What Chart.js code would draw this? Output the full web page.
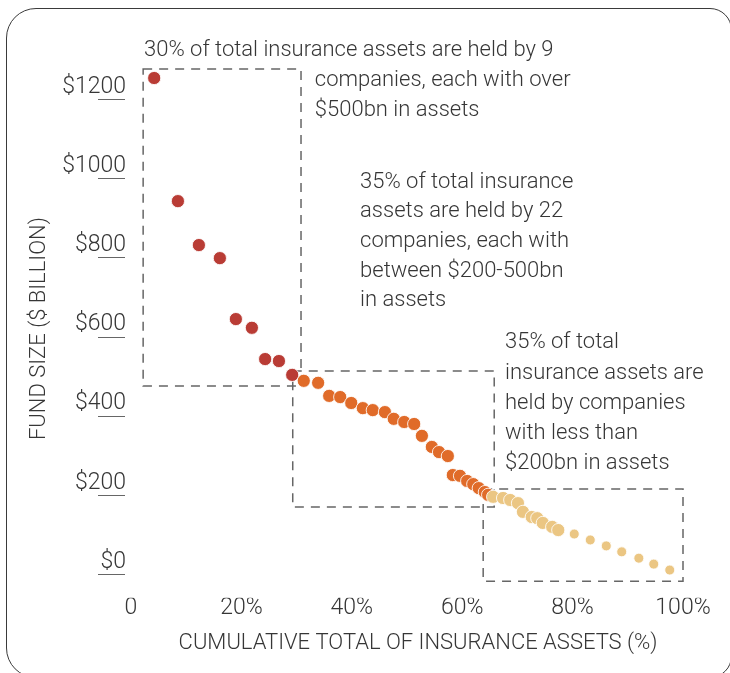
<!DOCTYPE html>
<html><head><meta charset="utf-8">
<script src="https://cdn.jsdelivr.net/npm/chart.js@4"></script>
<style>
html,body{margin:0;padding:0;background:#fff;}
#wrap{position:relative;width:730px;height:673px;overflow:hidden;}
#frame{position:absolute;left:6px;top:8px;width:726px;height:670px;box-sizing:border-box;border:1.5px solid #3a3a3a;border-radius:30px 22px 22px 30px;}
canvas{position:absolute;left:0;top:0;}
</style></head><body>
<div id="wrap"><div id="frame"></div><canvas id="c" width="730" height="673"></canvas></div>
<script>
// ---- tick labels ----
const xTickValues = [0, 20, 40, 60, 80, 100];
const xTickLabels = ['0', '20%', '40%', '60%', '80%', '100%'];
const yTickValues = [0, 200, 400, 600, 800, 1000, 1200];
const yTickLabels = ['$0', '$200', '$400', '$600', '$800', '$1000', '$1200'];

// ---- series: cumulative share (%) and fund size ($bn) ----
const over500X = [4.2, 8.5, 12.3, 16.1, 19.0, 21.9, 24.3, 26.8, 29.2];
const over500Y = [1253, 942, 831, 798, 644, 622, 543, 538, 503];

const mid200to500X = [31.3, 33.9, 35.9, 37.9, 39.9, 42.0, 43.8, 46.0, 47.6, 49.5, 51.3, 52.7, 54.5, 55.8, 57.4, 58.3, 59.6, 60.9, 62.0, 63.0, 64.1, 64.7];
const mid200to500Y = [488, 483, 450, 447, 432, 419, 414, 409, 392, 384, 379, 349, 321, 308, 298, 250, 248, 235, 227, 217, 207, 200];

const under200X = [65.6, 67.4, 68.7, 70.1, 71.0, 72.6, 73.6, 74.6, 76.3, 77.4];
const under200Y = [195, 192, 187, 179, 157, 144, 141, 129, 119, 111];

const smallestX = [80.3, 83.2, 86.1, 88.9, 92.0, 94.7, 97.6];
const smallestY = [101, 86, 71, 56, 40, 25, 10];

// ---- annotation groups (dashed boxes, data coordinates) ----
const boxXMin = [2.2, 29.3, 63.8];
const boxXMax = [30.8, 65.8, 100.0];
const boxYMax = [1276, 513, 215];
const boxYMin = [475, 169, -18];

const note1Lines = ['30% of total insurance assets are held by 9', 'companies, each with over', '$500bn in assets'];
const note2Lines = ['35% of total insurance', 'assets are held by 22', 'companies, each with', 'between $200-500bn', 'in assets'];
const note3Lines = ['35% of total', 'insurance assets are', 'held by companies', 'with less than', '$200bn in assets'];

const yTitle = 'FUND SIZE ($ BILLION)';
const xTitle = 'CUMULATIVE TOTAL OF INSURANCE ASSETS (%)';

function zip(xs, ys) { return xs.map((x, i) => ({ x: x, y: ys[i] })); }

const FAM = 'Roboto, "Liberation Sans", sans-serif';
const W = 300;
const TICK_SIZE = 23;
const NOTE_SIZE = 22;
const TITLE_SIZE = 22;
const TEXT = '#363636';

const RED = '#b93c35', ORANGE = '#e06b29', YELLOW = '#ebc683';

const boxPlugin = {
  id: 'boxes',
  beforeDatasetsDraw(chart) {
    const { ctx, scales: { x, y } } = chart;
    ctx.save();
    ctx.strokeStyle = '#666';
    ctx.lineWidth = 1.5;
    ctx.setLineDash([9, 7]);
    for (let i = 0; i < boxXMin.length; i++) {
      const l = x.getPixelForValue(boxXMin[i]), r = x.getPixelForValue(boxXMax[i]);
      const t = y.getPixelForValue(boxYMax[i]), b = y.getPixelForValue(boxYMin[i]);
      ctx.strokeRect(l, t, r - l, b - t);
    }
    ctx.restore();
  }
};

const underlinePlugin = {
  id: 'underline',
  afterDraw(chart) {
    const { ctx, chartArea, scales: { y } } = chart;
    ctx.save();
    ctx.strokeStyle = '#666';
    ctx.lineWidth = 1;
    ctx.beginPath();
    yTickValues.forEach(v => {
      const py = Math.round(y.getPixelForValue(v)) + 0.5;
      ctx.moveTo(chartArea.left - 33, py);
      ctx.lineTo(chartArea.left - 6, py);
    });
    ctx.stroke();
    ctx.restore();
  }
};

const notePlugin = {
  id: 'notes',
  afterDraw(chart) {
    const { ctx, scales: { x, y } } = chart;
    const LH = 29.7;
    ctx.save();
    ctx.fillStyle = TEXT;
    ctx.font = W + ' ' + NOTE_SIZE + 'px ' + FAM;
    ctx.textBaseline = 'middle';
    ctx.textAlign = 'left';
    const y1 = y.getPixelForValue(1322);
    ctx.fillText(note1Lines[0], x.getPixelForValue(2.36), y1);
    ctx.fillText(note1Lines[1], x.getPixelForValue(33.3), y1 + LH);
    ctx.fillText(note1Lines[2], x.getPixelForValue(33.3), y1 + 2 * LH);
    const y2 = y.getPixelForValue(990);
    note2Lines.forEach((s, i) => ctx.fillText(s, x.getPixelForValue(41.5), y2 + i * LH));
    const y3 = y.getPixelForValue(584);
    note3Lines.forEach((s, i) => ctx.fillText(s, x.getPixelForValue(67.75), y3 + i * 30.2));
    // x-axis title
    ctx.font = W + ' ' + TITLE_SIZE + 'px ' + FAM;
    ctx.textAlign = 'center';
    ctx.fillText(xTitle, x.getPixelForValue(52), chart.height - 30);
    ctx.restore();
  }
};

const ptBorder = 'rgba(255,255,255,0.85)';

new Chart(document.getElementById('c'), {
  type: 'scatter',
  data: {
    datasets: [
      { label: 'smallest', data: zip(smallestX, smallestY), backgroundColor: YELLOW, borderColor: ptBorder, borderWidth: 1, pointRadius: 5, order: 0, clip: false },
      { label: 'under $200bn', data: zip(under200X, under200Y), backgroundColor: YELLOW, borderColor: ptBorder, borderWidth: 1, pointRadius: 6.6, order: 1, clip: false },
      { label: '$200-500bn', data: zip(mid200to500X, mid200to500Y), backgroundColor: ORANGE, borderColor: ptBorder, borderWidth: 1, pointRadius: 6.6, order: 2, clip: false },
      { label: 'over $500bn', data: zip(over500X, over500Y), backgroundColor: RED, borderColor: ptBorder, borderWidth: 1, pointRadius: 6.6, order: 3, clip: false }
    ]
  },
  options: {
    responsive: false,
    animation: false,
    devicePixelRatio: 1,
    layout: { padding: { left: 0, right: 47, top: 59.417, bottom: 0 } },
    plugins: { legend: { display: false }, tooltip: { enabled: false } },
    scales: {
      x: {
        type: 'linear', min: 0, max: 100,
        afterBuildTicks: s => { s.ticks = xTickValues.map(v => ({ value: v })); },
        afterFit: s => { s.height = 75.25; },
        ticks: {
          callback: v => xTickLabels[xTickValues.indexOf(v)],
          padding: -3, color: TEXT, maxRotation: 0, autoSkip: false,
          font: { family: FAM, size: TICK_SIZE, weight: W }
        },
        grid: { display: false, drawTicks: false },
        border: { display: false }
      },
      y: {
        type: 'linear', min: -60, max: 1300,
        afterBuildTicks: s => { s.ticks = yTickValues.map(v => ({ value: v })); },
        afterFit: s => { s.width = 131; },
        ticks: {
          callback: v => yTickLabels[yTickValues.indexOf(v)],
          padding: 5, labelOffset: -12, color: TEXT, autoSkip: false,
          font: { family: FAM, size: TICK_SIZE, weight: W }
        },
        grid: { display: false, drawTicks: false },
        border: { display: false },
        title: { display: true, text: yTitle, color: TEXT, font: { family: FAM, size: TITLE_SIZE, weight: W }, padding: { top: 26, bottom: 26 } }
      }
    }
  },
  plugins: [boxPlugin, underlinePlugin, notePlugin]
});
</script>
</body></html>
